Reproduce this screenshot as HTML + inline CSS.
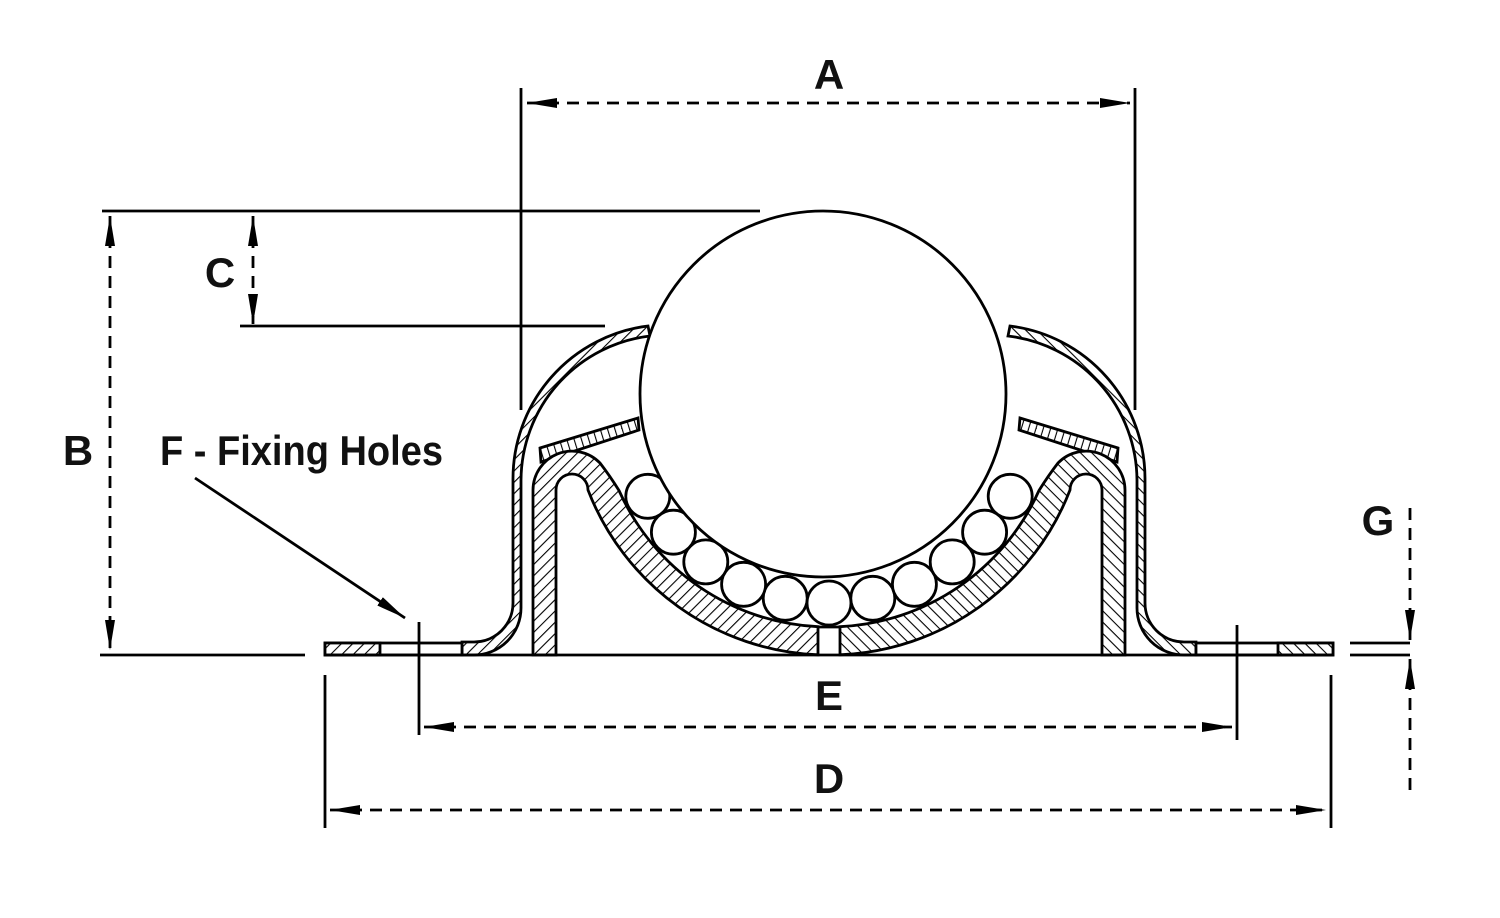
<!DOCTYPE html>
<html><head><meta charset="utf-8"><style>
html,body{margin:0;padding:0;background:#fff;}
svg{display:block;}
text{font-family:"Liberation Sans Narrow","Liberation Sans",sans-serif;font-weight:bold;fill:#111;}
</style></head><body>
<svg width="1500" height="918" viewBox="0 0 1500 918" xmlns="http://www.w3.org/2000/svg">
<defs>
<pattern id="h" patternUnits="userSpaceOnUse" width="8" height="8" patternTransform="rotate(45)">
<rect width="8" height="8" fill="#fff"/><line x1="0" y1="0" x2="0" y2="8" stroke="#000" stroke-width="2.2"/></pattern>
<pattern id="hv" patternUnits="userSpaceOnUse" width="7" height="7" patternTransform="rotate(-17)">
<rect width="7" height="7" fill="#fff"/><line x1="0" y1="0" x2="0" y2="7" stroke="#000" stroke-width="2.2"/></pattern>
<marker id="ar" viewBox="0 0 30 10" refX="30" refY="5" markerWidth="30" markerHeight="10" markerUnits="userSpaceOnUse" orient="auto-start-reverse">
<path d="M0,0 L30,5 L0,10 Z" fill="#000"/></marker>
</defs>
<g stroke="#000" stroke-width="2.8" fill="none">
<g id="half">
<path d="M648 326 A154 154 0 0 0 513 480 L513 603 A39 39 0 0 1 474 642 L462 642 L462 655 L474 655 A47 47 0 0 0 521 608 L521 480 A146 146 0 0 1 650 336 Z" fill="url(#h)"/>
<path d="M540 448 L638 418 L639 430 L541 462 Z" fill="url(#hv)"/>
<path d="M533 655 L533 490 A39 39 0 0 1 600 463 Q610 476 619 490.5 A230 230 0 0 0 818 626.7 L818 654.8 A258 258 0 0 1 588 490 A16 16 0 0 0 556 490 L556 655 Z" fill="url(#h)"/>
<rect x="325" y="643" width="137" height="12" fill="#fff"/>
<rect x="325" y="643" width="55" height="12" fill="url(#h)"/>
</g>
<use href="#half" transform="translate(1658,0) scale(-1,1)"/>
<line x1="818" y1="627" x2="840" y2="627"/>
<line x1="325" y1="655" x2="1333" y2="655"/>
<g fill="#fff">
<circle cx="829" cy="603" r="22"/>
<circle cx="785.2" cy="598.3" r="22"/><circle cx="872.8" cy="598.3" r="22"/>
<circle cx="743.6" cy="584.3" r="22"/><circle cx="914.4" cy="584.3" r="22"/>
<circle cx="705.8" cy="561.9" r="22"/><circle cx="952.2" cy="561.9" r="22"/>
<circle cx="673.4" cy="532.2" r="22"/><circle cx="984.6" cy="532.2" r="22"/>
<circle cx="647.8" cy="496.3" r="22"/><circle cx="1010.2" cy="496.3" r="22"/>
</g>
<circle cx="823" cy="394" r="183" fill="#fff"/>
<line x1="521" y1="88" x2="521" y2="410"/>
<line x1="1135" y1="88" x2="1135" y2="410"/>
<line x1="102" y1="211" x2="760" y2="211"/>
<line x1="100" y1="655" x2="305" y2="655"/>
<line x1="240" y1="326" x2="605" y2="326"/>
<line x1="419" y1="622" x2="419" y2="735"/>
<line x1="1237" y1="625" x2="1237" y2="740"/>
<line x1="325" y1="675" x2="325" y2="828"/>
<line x1="1331" y1="675" x2="1331" y2="828"/>
<line x1="1350" y1="643" x2="1410" y2="643"/>
<line x1="1350" y1="655" x2="1410" y2="655"/>
<line x1="195" y1="478" x2="405" y2="618" marker-end="url(#ar)"/>
<g stroke-dasharray="12 8">
<line x1="527" y1="103" x2="1130" y2="103" marker-start="url(#ar)" marker-end="url(#ar)"/>
<line x1="110" y1="216" x2="110" y2="650" marker-start="url(#ar)" marker-end="url(#ar)"/>
<line x1="253" y1="216" x2="253" y2="324" marker-start="url(#ar)" marker-end="url(#ar)"/>
<line x1="424" y1="727" x2="1232" y2="727" marker-start="url(#ar)" marker-end="url(#ar)"/>
<line x1="330" y1="810" x2="1326" y2="810" marker-start="url(#ar)" marker-end="url(#ar)"/>
<line x1="1410" y1="508" x2="1410" y2="640" marker-end="url(#ar)"/>
<line x1="1410" y1="790" x2="1410" y2="659" marker-end="url(#ar)"/>
</g>
</g>
<g font-size="42" text-anchor="middle">
<text x="829" y="89">A</text>
<text x="220" y="287">C</text>
<text x="78" y="465">B</text>
<text x="829" y="710">E</text>
<text x="829" y="793">D</text>
<text x="1378" y="535">G</text>
</g>
<text x="160" y="465" font-size="42" textLength="283" lengthAdjust="spacingAndGlyphs">F - Fixing Holes</text>
</svg>
</body></html>
